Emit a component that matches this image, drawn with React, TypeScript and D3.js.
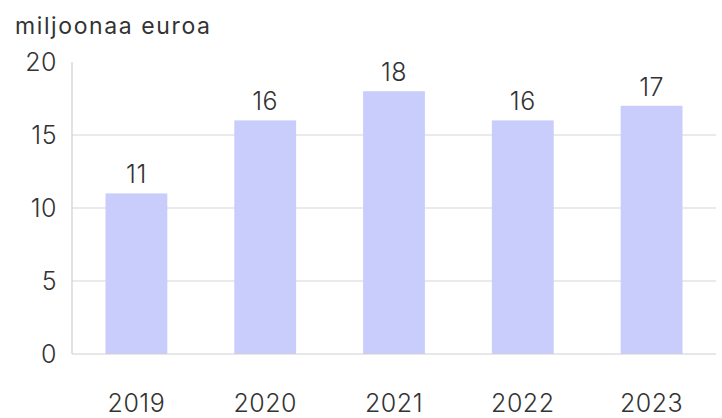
import React from "react";
import { scaleBand, scaleLinear } from "d3";

const years = ["2019", "2020", "2021", "2022", "2023"];
const values = [11, 16, 18, 16, 17];
const yTicks = [0, 5, 10, 15, 20];
const unitLabel = "miljoonaa euroa";

const W = 722;
const H = 418;
const left = 72;
const right = 716;
const top = 62;
const bottom = 354;
const font = "Inter, 'Noto Sans', sans-serif";

const App = () => {
  const x = scaleBand<string>()
    .domain(years)
    .range([left, right])
    .paddingInner(0.52)
    .paddingOuter(0.26);

  const y = scaleLinear().domain([0, 20]).range([bottom, top]);

  const numStyle = {
    fontFamily: font,
    fontSize: 25,
    fontWeight: 300,
    fill: "#333",
    letterSpacing: 0.5
  };

  return (
    <svg
      width={W}
      height={H}
      viewBox={`0 0 ${W} ${H}`}
      style={{ position: "absolute", left: 0, top: 0, background: "#fff" }}
    >
      <text x={15} y={34} fontFamily={font} fontSize={23} fill="#333" letterSpacing={1.6}>
        {unitLabel}
      </text>

      {yTicks
        .filter(t => t > 0 && t < 20)
        .map(t => (
          <line
            key={"g" + t}
            x1={left}
            x2={right}
            y1={y(t)}
            y2={y(t)}
            stroke="#d6d6d6"
            strokeWidth={1.2}
          />
        ))}

      {years.map((yr, i) => (
        <rect
          key={yr}
          x={x(yr)}
          y={y(values[i])}
          width={x.bandwidth()}
          height={bottom - y(values[i])}
          fill="#c9cdfb"
        />
      ))}

      <line x1={left} x2={left} y1={top} y2={bottom} stroke="#cfcfcf" strokeWidth={1.2} />
      <line x1={left} x2={right} y1={bottom} y2={bottom} stroke="#cfcfcf" strokeWidth={1.2} />

      {yTicks.map(t => (
        <text key={"t" + t} x={57} y={y(t) + 9} textAnchor="end" {...numStyle}>
          {t}
        </text>
      ))}

      {years.map((yr, i) => (
        <text
          key={"v" + yr}
          x={(x(yr) ?? 0) + x.bandwidth() / 2}
          y={y(values[i]) - 10}
          textAnchor="middle"
          {...numStyle}
        >
          {values[i]}
        </text>
      ))}

      {years.map(yr => (
        <text
          key={"x" + yr}
          x={(x(yr) ?? 0) + x.bandwidth() / 2}
          y={412}
          textAnchor="middle"
          {...numStyle}
        >
          {yr}
        </text>
      ))}
    </svg>
  );
};

export default App;
